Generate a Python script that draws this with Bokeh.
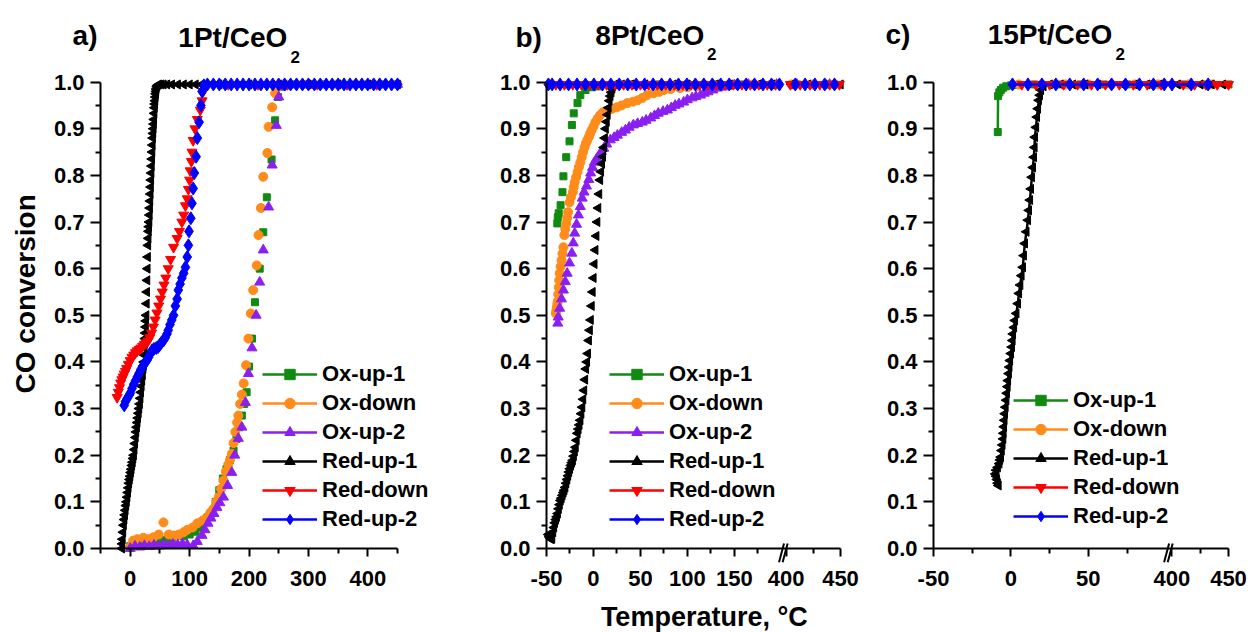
import math
from bokeh.plotting import figure
from bokeh.models import (Range1d, FixedTicker, PrintfTickFormatter, Legend, LegendItem,
                          Label, Arrow, ColumnDataSource)
from bokeh.layouts import row
from bokeh.embed import file_html
from bokeh.resources import INLINE

FONT = "Liberation Sans"

# ---------------- series names / styles ----------------
SERIES = ["Ox-up-1", "Ox-down", "Ox-up-2", "Red-up-1", "Red-down", "Red-up-2"]
COLORS = {"Ox-up-1": "#108A10", "Ox-down": "#FF8C1A", "Ox-up-2": "#8A1FF0",
          "Red-up-1": "#000000", "Red-down": "#FF0000", "Red-up-2": "#0000FF"}
MARKERS = {"Ox-up-1": ("square", 7, 0.0), "Ox-down": ("circle", 9, 0.0),
           "Ox-up-2": ("triangle", 10, 0.0), "Red-up-1": ("triangle", 9, math.pi / 2),
           "Red-down": ("inverted_triangle", 10, 0.0), "Red-up-2": ("diamond", 13, 0.0)}

# ---------------- panel a: 1Pt/CeO2 ----------------
A_OXUP1_T = [0, 10, 20, 30, 40, 50, 60, 70, 80, 90, 100, 110, 120, 128, 136, 144, 150, 156, 162, 168,
             174, 179, 184, 188, 192, 196, 200, 205, 210, 218, 224, 230, 238, 244, 249, 256, 275, 300,
             325, 350, 375, 400, 425, 450]
A_OXUP1_Y = [0.005, 0.008, 0.010, 0.012, 0.014, 0.016, 0.018, 0.020, 0.028, 0.026, 0.030, 0.036, 0.045,
             0.060, 0.075, 0.100, 0.125, 0.150, 0.170, 0.190, 0.210, 0.235, 0.260, 0.285, 0.310, 0.335,
             0.390, 0.450, 0.528, 0.600, 0.678, 0.753, 0.834, 0.918, 0.968, 0.990, 0.995, 0.995, 0.995,
             0.995, 0.995, 0.995, 0.995, 0.995]

A_OXDN_T = [0, 5, 12, 22, 30, 39, 48, 56, 65, 73, 82, 90, 96, 105, 113, 122, 129, 135, 140, 145, 149,
            153, 157, 161, 165, 168, 171, 174, 177, 180, 182, 185, 188, 191, 195, 199, 203, 207, 213,
            216, 220, 224, 231, 233, 239, 244, 250, 262, 290, 320, 350, 380, 410, 450]
A_OXDN_Y = [0.003, 0.017, 0.020, 0.023, 0.020, 0.024, 0.030, 0.056, 0.030, 0.028, 0.030, 0.035, 0.040,
            0.045, 0.054, 0.060, 0.067, 0.077, 0.085, 0.100, 0.110, 0.128, 0.146, 0.165, 0.180, 0.190,
            0.203, 0.226, 0.250, 0.270, 0.285, 0.310, 0.330, 0.354, 0.393, 0.450, 0.504, 0.554, 0.607,
            0.672, 0.730, 0.797, 0.848, 0.904, 0.946, 0.976, 0.990, 0.995, 0.995, 0.995, 0.995, 0.995,
            0.995, 0.995]

A_OXUP2_T = [0, 8, 16, 24, 32, 40, 48, 56, 64, 72, 80, 88, 96, 106, 113, 121, 126, 131, 136, 141, 146,
             151, 157, 164, 171, 176, 182, 188, 194, 199, 205, 212, 218, 224, 233, 239, 246, 250, 256,
             270, 300, 330, 360, 390, 420, 450]
A_OXUP2_Y = [0.000, 0.005, 0.003, 0.006, 0.004, 0.007, 0.005, 0.008, 0.006, 0.009, 0.008, 0.010, 0.008,
             0.006, 0.015, 0.028, 0.040, 0.054, 0.065, 0.075, 0.088, 0.098, 0.110, 0.135, 0.163, 0.200,
             0.236, 0.260, 0.313, 0.375, 0.430, 0.500, 0.571, 0.640, 0.732, 0.822, 0.907, 0.968, 0.990,
             0.995, 0.995, 0.995, 0.995, 0.995, 0.995, 0.995]

A_REDUP1_T = [-14, -13.5, -13, -12, -11, -10, -9, -8, -7, -6, -5, -4, -3, -2, -1, 0, 1, 2, 3, 4, 5, 6,
              7, 8, 9, 10, 11, 12, 13, 14, 15, 16, 17, 18, 19, 20, 21, 22, 22.5, 23, 23.5, 24, 24.5, 25,
              25.5, 26, 26.5, 27, 27.5, 28, 28.5, 29, 29.5, 30, 30.5, 31, 31.5, 32, 32.5, 33, 33.5, 34,
              34.5, 35, 35.5, 36, 36.5, 37, 37.5, 38, 38.5, 39, 39.5, 40, 40.5, 41, 41.5, 42, 42.5, 43,
              43.5, 44, 45, 46, 48, 52, 56, 62, 70, 80, 90, 100, 110, 120, 150, 200, 250, 300, 350, 400,
              450]
A_REDUP1_Y = [0.000, 0.010, 0.020, 0.035, 0.050, 0.062, 0.072, 0.082, 0.092, 0.100, 0.110, 0.120,
              0.130, 0.140, 0.148, 0.155, 0.163, 0.170, 0.178, 0.185, 0.193, 0.200, 0.212, 0.225, 0.238,
              0.250, 0.260, 0.270, 0.280, 0.290, 0.300, 0.310, 0.322, 0.335, 0.348, 0.360, 0.372, 0.385,
              0.392, 0.400, 0.415, 0.430, 0.440, 0.450, 0.462, 0.475, 0.488, 0.500, 0.525, 0.550, 0.575,
              0.600, 0.625, 0.650, 0.665, 0.680, 0.690, 0.700, 0.715, 0.730, 0.745, 0.760, 0.775, 0.790,
              0.805, 0.820, 0.835, 0.850, 0.865, 0.880, 0.890, 0.900, 0.910, 0.920, 0.933, 0.945, 0.953,
              0.960, 0.968, 0.975, 0.980, 0.985, 0.990, 0.993, 0.995, 0.995, 0.995, 0.995, 0.995, 0.995,
              0.995, 0.995, 0.995, 0.995, 0.995, 0.995, 0.995, 0.995, 0.995, 0.995, 0.995]

A_REDDN_T = [-22, -20, -18, -16, -14, -12, -10, -8, -6, -3, 0, 3, 6, 9, 12, 15, 18, 21, 24, 27, 30, 33,
             36, 39, 42, 45, 48, 51, 54, 57, 60, 64, 68, 73, 79, 83, 87, 90, 93, 96, 98, 100, 101, 103,
             104, 106, 109, 113, 118, 121, 123, 128, 140, 165, 190, 215, 240, 265, 290, 315, 340, 365,
             390, 415, 440]
A_REDDN_Y = [0.324, 0.335, 0.345, 0.355, 0.362, 0.368, 0.374, 0.380, 0.386, 0.395, 0.403, 0.410, 0.415,
             0.420, 0.424, 0.427, 0.430, 0.434, 0.438, 0.441, 0.445, 0.452, 0.462, 0.475, 0.490, 0.505,
             0.520, 0.535, 0.550, 0.565, 0.580, 0.600, 0.620, 0.646, 0.665, 0.680, 0.700, 0.715, 0.735,
             0.750, 0.770, 0.790, 0.810, 0.830, 0.850, 0.875, 0.900, 0.920, 0.940, 0.960, 0.980, 0.993,
             0.995, 0.995, 0.995, 0.995, 0.995, 0.995, 0.995, 0.995, 0.995, 0.995, 0.995, 0.995, 0.995]

A_REDUP2_T = [-10, -8, -5, -2, 0, 3, 6, 9, 12, 15, 18, 21, 24, 28, 31, 34, 37, 40, 44, 47, 50, 53, 56,
              59, 62, 64, 67, 70, 73, 76, 79, 81, 84, 87, 90, 93, 96, 98, 99, 102, 104, 106, 108, 111,
              113, 116, 119, 121, 124, 130, 140, 150, 160, 170, 180, 190, 200, 210, 220, 230, 240, 250,
              260, 270, 280, 290, 300, 310, 320, 330, 340, 350, 360, 370, 380, 390, 400, 410, 420, 430,
              440, 450]
A_REDUP2_Y = [0.307, 0.315, 0.322, 0.328, 0.333, 0.343, 0.352, 0.360, 0.368, 0.376, 0.384, 0.390,
              0.397, 0.403, 0.410, 0.418, 0.425, 0.428, 0.430, 0.432, 0.437, 0.442, 0.446, 0.452, 0.460,
              0.468, 0.480, 0.490, 0.500, 0.520, 0.535, 0.554, 0.567, 0.580, 0.590, 0.603, 0.625, 0.650,
              0.680, 0.708, 0.740, 0.772, 0.805, 0.840, 0.880, 0.914, 0.950, 0.980, 0.993, 0.995, 0.995,
              0.995, 0.995, 0.995, 0.995, 0.995, 0.995, 0.995, 0.995, 0.995, 0.995, 0.995, 0.995, 0.995,
              0.995, 0.995, 0.995, 0.995, 0.995, 0.995, 0.995, 0.995, 0.995, 0.995, 0.995, 0.995, 0.995,
              0.995, 0.995, 0.995, 0.995, 0.995]

# ---------------- panel b: 8Pt/CeO2 ----------------
B_OXUP1_T = [-38.5, -38, -37, -35, -33, -32, -29, -25.5, -23, -21, -17, -14, -8.5, -1, 7, 20, 40, 70,
             100, 130, 160, 190, 410, 440]
B_OXUP1_Y = [0.697, 0.710, 0.719, 0.736, 0.764, 0.798, 0.839, 0.873, 0.908, 0.933, 0.955, 0.972, 0.983,
             0.989, 0.991, 0.993, 0.995, 0.995, 0.995, 0.995, 0.995, 0.995, 0.995, 0.995]

B_OXDN_T = [-40, -39.5, -39, -38.5, -38, -37.5, -37, -36.5, -36, -35, -34, -33, -32, -31, -30, -29, -28,
            -27, -25.5, -24, -22, -21, -20, -18.5, -17, -15.5, -14, -12.5, -11, -9.5, -8, -6.5, -5,
            -3.5, -2, 0, 2, 4.5, 7, 10, 13, 16, 20, 25, 30, 36, 42, 47, 52, 57, 64, 70, 75, 82, 92, 100,
            110, 120, 135, 150, 170, 190, 405, 425, 445]
B_OXDN_Y = [0.504, 0.510, 0.517, 0.524, 0.530, 0.545, 0.560, 0.575, 0.590, 0.604, 0.618, 0.632, 0.646,
            0.672, 0.685, 0.697, 0.709, 0.721, 0.742, 0.753, 0.764, 0.775, 0.785, 0.796, 0.807, 0.818,
            0.828, 0.839, 0.850, 0.860, 0.869, 0.876, 0.882, 0.890, 0.897, 0.905, 0.914, 0.922, 0.929,
            0.935, 0.938, 0.940, 0.943, 0.946, 0.950, 0.955, 0.958, 0.961, 0.966, 0.972, 0.976, 0.979,
            0.983, 0.985, 0.987, 0.989, 0.991, 0.993, 0.995, 0.995, 0.995, 0.995, 0.995, 0.995, 0.995]

B_OXUP2_T = [-38, -37.5, -36, -34, -32, -30, -28, -25.5, -23, -21.5, -20, -18, -16, -14, -12, -10, -7.4,
             -5, -3, -1, 1, 3.5, 6, 8.5, 11, 14, 18, 22, 25.5, 30, 34, 38, 42.5, 47, 52, 56, 61, 65, 69,
             74, 78.7, 83, 87, 91, 96, 100, 105, 109, 114, 118, 122, 127, 132, 137, 142.5, 150, 165, 180,
             195, 410, 440]
B_OXUP2_Y = [0.483, 0.496, 0.515, 0.535, 0.554, 0.572, 0.590, 0.612, 0.633, 0.655, 0.676, 0.695, 0.715,
             0.733, 0.751, 0.764, 0.777, 0.791, 0.805, 0.817, 0.828, 0.836, 0.843, 0.851, 0.858, 0.867,
             0.876, 0.881, 0.886, 0.892, 0.897, 0.903, 0.908, 0.911, 0.914, 0.918, 0.923, 0.928, 0.933,
             0.937, 0.940, 0.945, 0.950, 0.953, 0.957, 0.962, 0.966, 0.969, 0.972, 0.976, 0.979, 0.983,
             0.987, 0.989, 0.991, 0.993, 0.995, 0.995, 0.995, 0.995, 0.995]

B_REDUP1_T = [-48, -47, -46, -45, -44, -43, -42, -41, -40, -39, -38, -37, -36, -35, -34, -33, -32, -31,
              -30, -29, -28, -27, -26, -25, -24, -23, -22, -21, -20, -19, -18, -17, -16, -15, -14, -13,
              -12, -11, -10, -9, -8, -7, -6, -5, -4, -3, -2, -1, 0, 1, 2, 3, 4, 5, 6, 7, 8, 9, 10, 11, 12,
              13, 14, 15, 16, 17, 18, 19, 20, 21, 23, 30, 40, 55, 70, 85, 100, 115, 130, 145, 160, 175,
              190, 405, 420, 435, 450]
B_REDUP1_Y = [0.030, 0.025, 0.022, 0.020, 0.021, 0.035, 0.045, 0.055, 0.062, 0.068, 0.075, 0.085,
              0.094, 0.103, 0.108, 0.114, 0.120, 0.125, 0.131, 0.140, 0.148, 0.156, 0.164, 0.171, 0.178,
              0.184, 0.189, 0.198, 0.208, 0.217, 0.232, 0.247, 0.256, 0.265, 0.275, 0.289, 0.303, 0.320,
              0.339, 0.362, 0.385, 0.400, 0.418, 0.446, 0.468, 0.490, 0.520, 0.550, 0.580, 0.610, 0.640,
              0.670, 0.700, 0.730, 0.760, 0.790, 0.808, 0.825, 0.840, 0.860, 0.880, 0.900, 0.915, 0.930,
              0.945, 0.960, 0.970, 0.978, 0.986, 0.992, 0.995, 0.995, 0.995, 0.995, 0.995, 0.995, 0.995,
              0.995, 0.995, 0.995, 0.995, 0.995, 0.995, 0.995, 0.995, 0.995, 0.995]

B_REDDN_T = [-40, -31, -22, -13, -4, 5, 14, 23, 32, 41, 50, 59, 68, 77, 86, 95, 104, 113, 122, 131, 140,
             149, 158, 167, 176, 185, 194, 404, 413, 422, 431, 440, 449]
B_REDDN_Y = [0.995, 0.995, 0.995, 0.995, 0.995, 0.995, 0.995, 0.995, 0.995, 0.995, 0.995, 0.995, 0.995,
             0.995, 0.995, 0.995, 0.995, 0.995, 0.995, 0.995, 0.995, 0.995, 0.995, 0.995, 0.995, 0.995,
             0.995, 0.995, 0.995, 0.995, 0.995, 0.995, 0.995]

B_REDUP2_T = [-48, -44, -35.5, -26.5, -17.5, -8.5, 0.5, 9.5, 18.5, 27.5, 36.5, 45.5, 54.5, 63.5, 72.5,
              81.5, 90.5, 99.5, 108.5, 117.5, 126.5, 135.5, 144.5, 153.5, 162.5, 171.5, 180.5, 189.5, 198,
              408.5, 417.5, 426.5, 435.5, 444.5]
B_REDUP2_Y = [0.995, 0.995, 0.995, 0.995, 0.995, 0.995, 0.995, 0.995, 0.995, 0.995, 0.995, 0.995,
              0.995, 0.995, 0.995, 0.995, 0.995, 0.995, 0.995, 0.995, 0.995, 0.995, 0.995, 0.995, 0.995,
              0.995, 0.995, 0.995, 0.995, 0.995, 0.995, 0.995, 0.995, 0.995]

# ---------------- panel c: 15Pt/CeO2 ----------------
C_OXUP1_T = [-8.5, -8.3, -7.5, -6.5, -5, -3, 0, 4, 15, 30, 45, 60, 75, 90, 410, 430, 450]
C_OXUP1_Y = [0.893, 0.970, 0.978, 0.983, 0.988, 0.991, 0.993, 0.994, 0.995, 0.995, 0.995, 0.995, 0.995,
             0.995, 0.995, 0.995, 0.995]

C_OXDN_T = [5, 20, 35, 50, 65, 80, 95, 415, 435]
C_OXDN_Y = [0.995, 0.995, 0.995, 0.995, 0.995, 0.995, 0.995, 0.995, 0.995]

C_REDUP1_T = [-8, -8.5, -9, -9.5, -10, -9.5, -8.5, -7.5, -7, -6.5, -6, -5.5, -5, -4.8, -4.5, -4.2, -3.9,
              -3.5, -3, -2.6, -2.2, -1.9, -1.4, -1, -0.6, 0, 0.6, 1, 1.3, 2, 2.6, 3.5, 4.5, 5.2, 6, 6.8,
              7.7, 8.3, 9, 10, 11, 11.6, 12.3, 12.9, 13.5, 14.2, 14.8, 15.2, 15.5, 16.2, 16.8, 17.4, 18,
              18.7, 19.4, 21, 25, 32, 40, 48, 56, 64, 72, 80, 88, 96, 405, 415, 425, 435, 445]
C_REDUP1_Y = [0.135, 0.140, 0.148, 0.155, 0.160, 0.168, 0.174, 0.182, 0.190, 0.196, 0.210, 0.222,
              0.235, 0.247, 0.261, 0.275, 0.289, 0.303, 0.318, 0.333, 0.347, 0.360, 0.375, 0.389, 0.403,
              0.418, 0.432, 0.446, 0.460, 0.474, 0.489, 0.504, 0.525, 0.547, 0.565, 0.585, 0.603, 0.628,
              0.654, 0.679, 0.704, 0.725, 0.747, 0.771, 0.796, 0.817, 0.839, 0.860, 0.882, 0.903, 0.925,
              0.943, 0.961, 0.972, 0.983, 0.991, 0.995, 0.995, 0.995, 0.995, 0.995, 0.995, 0.995, 0.995,
              0.995, 0.995, 0.995, 0.995, 0.995, 0.995, 0.995]

C_REDDN_T = [7, 16, 25, 34, 43, 52, 61, 70, 79, 88, 97, 400, 410, 420, 430, 440, 450]
C_REDDN_Y = [0.995, 0.995, 0.995, 0.995, 0.995, 0.995, 0.995, 0.995, 0.995, 0.995, 0.995, 0.995, 0.995,
             0.995, 0.995, 0.995, 0.995]

C_REDUP2_T = [1, 11, 20, 29, 38, 47, 56, 65, 74, 83, 92, 99, 400, 417, 432]
C_REDUP2_Y = [0.995, 0.995, 0.995, 0.995, 0.995, 0.995, 0.995, 0.995, 0.995, 0.995, 0.995, 0.995, 0.995,
              0.995, 0.995]

# ---------------- tick labels ----------------
A_MAJOR = [0, 100, 200, 300, 400]
A_MINOR = [-50, 50, 150, 250, 350, 450]
B_MAJOR = [-50, 0, 50, 100, 150, 400, 450]
B_MINOR = [-25, 25, 75, 125, 175, 425]
C_MAJOR = [-50, 0, 50, 400, 450]
C_MINOR = [-25, 25, 75, 425]
Y_TICKS = [0.0, 0.1, 0.2, 0.3, 0.4, 0.5, 0.6, 0.7, 0.8, 0.9, 1.0]
Y_MINOR = [0.05, 0.15, 0.25, 0.35, 0.45, 0.55, 0.65, 0.75, 0.85, 0.95]


# broken-axis mappings (temperature -> axis position)
def map_a(t):
    return t


def map_b(t):
    return t if t < 300 else 205 + (t - 400) * 1.16


def map_c(t):
    return t if t < 300 else 104 + (t - 400) * 0.73


FIG_H = 632
# vertical pixel layout (canvas coords from top): y=0 at 548, y=1 at 81.6
Y0_PX, Y1_PX = 548.0, 81.6
SY = (Y0_PX - Y1_PX)
Y_START = -(FIG_H - Y0_PX) / SY
Y_END = 1 + Y1_PX / SY


def make_panel(data, xmap, fig_w, px_lo, px_hi, major, minor, leg_loc, draw_lines,
               tag, title, sub, tag_pos, title_pos, sub_pos, brk=None, ylabel_pos=None,
               xlabel_pos=None):
    x_end = xmap(450)
    sx = (px_hi - px_lo) / (x_end + 50.0)
    x_start = -50 - px_lo / sx
    x_stop = x_end + (fig_w - px_hi) / sx
    p = figure(frame_width=fig_w, frame_height=FIG_H, x_range=Range1d(x_start, x_stop),
               y_range=Range1d(Y_START, Y_END), output_backend="svg", toolbar_location=None)
    p.min_border = 0
    p.min_border_left = 0
    p.min_border_right = 0
    p.min_border_top = 0
    p.min_border_bottom = 0
    p.outline_line_color = None
    p.grid.visible = False
    p.background_fill_color = "white"
    p.border_fill_color = "white"

    for ax in (p.xaxis[0], p.yaxis[0]):
        ax.axis_line_width = 2
        ax.major_tick_line_width = 2
        ax.minor_tick_line_width = 2
        ax.major_tick_in = 0
        ax.minor_tick_in = 0
        ax.major_label_text_font = FONT
        ax.major_label_text_font_style = "bold"
        ax.major_label_text_font_size = "22px"
        ax.major_label_text_color = "black"
        ax.axis_line_color = "black"
        ax.major_tick_line_color = "black"
        ax.minor_tick_line_color = "black"

    p.xaxis.fixed_location = 0
    p.yaxis.fixed_location = -50
    p.xaxis.bounds = (-50, x_end)
    p.yaxis.bounds = (0, 1)
    p.xaxis.ticker = FixedTicker(ticks=[xmap(t) for t in major],
                                 minor_ticks=[xmap(t) for t in minor])
    p.xaxis.major_label_overrides = {xmap(t): str(t) for t in major}
    p.xaxis.major_tick_out = 8
    p.xaxis.minor_tick_out = 5
    p.xaxis.major_label_standoff = 14

    p.yaxis.ticker = FixedTicker(ticks=Y_TICKS, minor_ticks=Y_MINOR)
    p.yaxis.formatter = PrintfTickFormatter(format="%.1f")
    p.yaxis.major_tick_out = 10
    p.yaxis.minor_tick_out = 5
    p.yaxis.major_label_standoff = 6

    items = []
    for name, (tx, ty) in data:
        col = COLORS[name]
        mk, sz, ang = MARKERS[name]
        xs = [xmap(t) for t in tx]
        src = ColumnDataSource(dict(x=xs, y=ty))
        # in panels without visible connecting lines, the line renderer holds only the
        # first point, so it draws nothing in the plot but still shows in the legend
        lsrc = src if draw_lines else ColumnDataSource(dict(x=xs[:1], y=ty[:1]))
        lr = p.line("x", "y", source=lsrc, line_color=col, line_width=2.5)
        sr = p.scatter("x", "y", source=src, marker=mk, size=sz, angle=ang,
                       fill_color=col, line_color=col)
        items.append(LegendItem(label=name, renderers=[lr, sr]))

    leg = Legend(items=items, location=leg_loc, label_text_font=FONT, label_text_font_style="bold",
                 label_text_font_size="22px", label_text_color="black", glyph_width=55,
                 glyph_height=26, label_height=26, spacing=3, padding=0, margin=0,
                 label_standoff=5, border_line_alpha=0, background_fill_alpha=0)
    p.add_layout(leg)

    p.add_layout(Label(x=tag_pos[0], y=tag_pos[1], text=tag, text_font=FONT, text_font_style="bold",
                       text_font_size="28px", text_color="black"))
    p.add_layout(Label(x=title_pos[0], y=title_pos[1], text=title, text_font=FONT,
                       text_font_style="bold", text_font_size="28px", text_color="black"))
    p.add_layout(Label(x=sub_pos[0], y=sub_pos[1], text=sub, text_font=FONT, text_font_style="bold",
                       text_font_size="17px", text_color="black"))

    if ylabel_pos is not None:
        p.add_layout(Label(x=ylabel_pos[0], y=ylabel_pos[1], text="CO conversion", text_font=FONT,
                           text_font_style="bold", text_font_size="28px", text_align="center",
                           text_baseline="middle", angle=math.pi / 2, text_color="black"))
    if xlabel_pos is not None:
        p.add_layout(Label(x=xlabel_pos[0], y=xlabel_pos[1], text="Temperature, °C", text_font=FONT,
                           text_font_style="bold", text_font_size="27px", text_align="center",
                           text_baseline="bottom", text_color="black"))

    if brk is not None:
        for c in (brk - 1.8 / sx, brk + 1.8 / sx):
            p.add_layout(Arrow(start=None, end=None, x_start=c - 3.6 / sx, y_start=-13.7 / SY,
                               x_end=c + 1.4 / sx, y_end=5.0 / SY, line_width=2, line_color="black"))
    return p


pa = make_panel(
    [("Ox-up-1", (A_OXUP1_T, A_OXUP1_Y)), ("Ox-down", (A_OXDN_T, A_OXDN_Y)),
     ("Ox-up-2", (A_OXUP2_T, A_OXUP2_Y)), ("Red-up-1", (A_REDUP1_T, A_REDUP1_Y)),
     ("Red-down", (A_REDDN_T, A_REDDN_Y)), ("Red-up-2", (A_REDUP2_T, A_REDUP2_Y))],
    map_a, 470, 100, 397, A_MAJOR, A_MINOR, (262, 100), False,
    "a)", "1Pt/CeO", "2", (-97, 1.066), (81, 1.062), (270, 1.040), ylabel_pos=(-176, 0.546))
pa.xaxis.major_label_overrides = {t: str(t) for t in A_MAJOR}

pb = make_panel(
    [("Ox-up-1", (B_OXUP1_T, B_OXUP1_Y)), ("Ox-down", (B_OXDN_T, B_OXDN_Y)),
     ("Ox-up-2", (B_OXUP2_T, B_OXUP2_Y)), ("Red-up-1", (B_REDUP1_T, B_REDUP1_Y)),
     ("Red-down", (B_REDDN_T, B_REDDN_Y)), ("Red-up-2", (B_REDUP2_T, B_REDUP2_Y))],
    map_b, 400, 76, 370, B_MAJOR, B_MINOR, (139, 100), False,
    "b)", "8Pt/CeO", "2", (-83, 1.062), (2, 1.066), (121, 1.047), brk=203.3,
    xlabel_pos=(118, -0.178))

pc = make_panel(
    [("Ox-up-1", (C_OXUP1_T, C_OXUP1_Y)), ("Ox-down", (C_OXDN_T, C_OXDN_Y)),
     ("Red-up-1", (C_REDUP1_T, C_REDUP1_Y)), ("Red-down", (C_REDDN_T, C_REDDN_Y)),
     ("Red-up-2", (C_REDUP2_T, C_REDUP2_Y))],
    map_c, 380, 63, 358, C_MAJOR, C_MINOR, (143, 103), True,
    "c)", "15Pt/CeO", "2", (-81, 1.068), (-15, 1.068), (67.5, 1.047), brk=102.4)

layout = row(pa, pb, pc)
open("out.html", "w").write(file_html(layout, INLINE))
